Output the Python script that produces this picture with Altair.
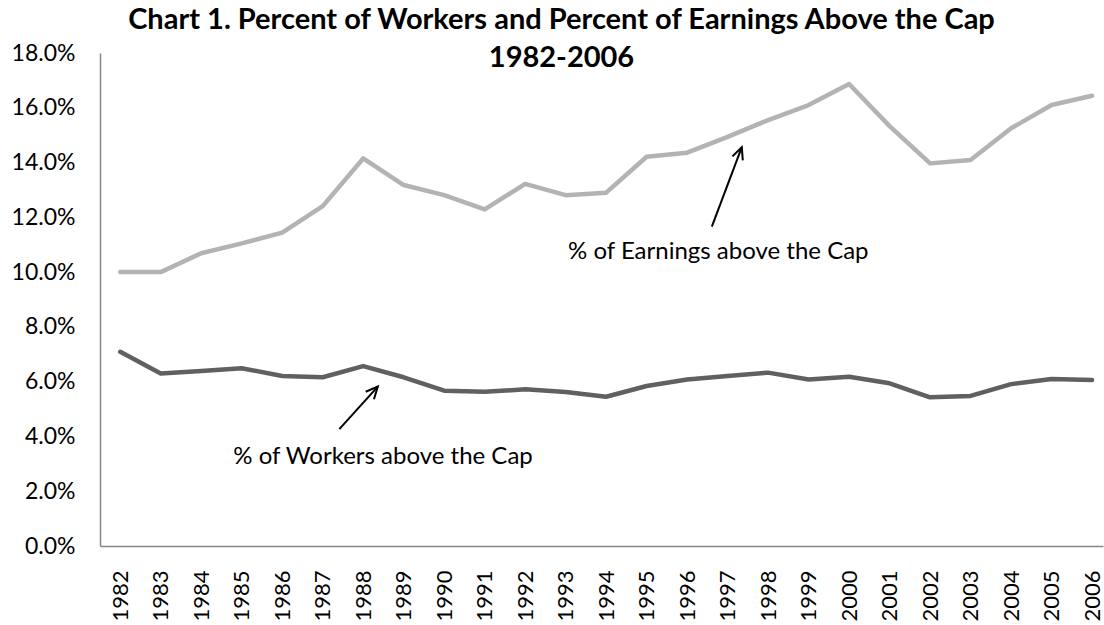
import altair as alt
import pandas as pd

years = list(range(1982, 2007))
workers_pct = [7.09, 6.30, 6.39, 6.49, 6.21, 6.16, 6.57, 6.16, 5.67, 5.63, 5.72,
               5.62, 5.45, 5.84, 6.08, 6.21, 6.33, 6.08, 6.18, 5.94, 5.43, 5.48,
               5.91, 6.10, 6.06]
earnings_pct = [10.0, 10.0, 10.69, 11.05, 11.44, 12.41, 14.15, 13.18, 12.81, 12.29,
                13.22, 12.81, 12.90, 14.21, 14.36, 14.94, 15.55, 16.10, 16.87, 15.33,
                13.97, 14.09, 15.25, 16.10, 16.44]
series_names = ["% of Workers above the Cap", "% of Earnings above the Cap"]
series_colors = ["#606060", "#b3b3b3"]
y_ticks = [0, 2, 4, 6, 8, 10, 12, 14, 16, 18]

# annotation anchors (data coordinates)
label_text = ["% of Earnings above the Cap", "% of Workers above the Cap"]
label_x = [1996.77, 1988.49]
label_y = [10.74, 3.24]
arrow_x = [1996.61, 1987.41]
arrow_y = [11.66, 4.27]
arrow_tip_x = [1997.35, 1988.36]
arrow_tip_y = [14.56, 5.82]
arrow_angle = [20.7, 41.9]

FONT = "Lato"

df = pd.DataFrame({
    "year": years * 2,
    "value": workers_pct + earnings_pct,
    "series": [series_names[0]] * len(years) + [series_names[1]] * len(years),
})
ann = pd.DataFrame({"text": label_text, "x": label_x, "y": label_y})
arr = pd.DataFrame({"x": arrow_x, "y": arrow_y, "x2": arrow_tip_x, "y2": arrow_tip_y,
                    "angle": arrow_angle})

xscale = alt.Scale(domain=[1981.5, 2006.27], nice=False, zero=False)
yscale = alt.Scale(domain=[0, 18], nice=False)

lines = alt.Chart(df).mark_line(strokeWidth=4.5, strokeCap="round", strokeJoin="round").encode(
    x=alt.X("year:Q", scale=xscale,
            axis=alt.Axis(values=years, format="d", labelAngle=-90, labelAlign="right",
                          labelBaseline="middle", labelPadding=24, ticks=False, grid=False,
                          domainColor="#868686", domainWidth=1.5, labelFont=FONT,
                          labelFontSize=22, labelColor="#000000", title=None)),
    y=alt.Y("value:Q", scale=yscale,
            axis=alt.Axis(values=y_ticks, labelExpr="format(datum.value, '.1f') + '%'",
                          ticks=False, grid=False, domainColor="#868686", domainWidth=1.5,
                          labelFont=FONT, labelFontSize=23, labelColor="#000000",
                          labelPadding=25, title=None)),
    color=alt.Color("series:N", scale=alt.Scale(domain=series_names, range=series_colors),
                    legend=None),
    detail="series:N",
)

texts = alt.Chart(ann).mark_text(font=FONT, fontSize=24, color="#000000",
                                 align="center", baseline="middle").encode(
    x=alt.X("x:Q", scale=xscale), y=alt.Y("y:Q", scale=yscale), text="text:N")

shafts = alt.Chart(arr).mark_rule(color="#000000", strokeWidth=2).encode(
    x=alt.X("x:Q", scale=xscale), y=alt.Y("y:Q", scale=yscale),
    x2="x2:Q", y2="y2:Q")

heads = alt.Chart(arr).mark_point(shape="M-0.42,0.9L0,0L0.42,0.9", filled=False,
                                  color="#000000", strokeWidth=2, size=700,
                                  opacity=1).encode(
    x=alt.X("x2:Q", scale=xscale), y=alt.Y("y2:Q", scale=yscale),
    angle=alt.Angle("angle:Q", scale=None))

chart = alt.layer(lines, shafts, heads, texts).properties(
    width=1003, height=493,
    title=alt.TitleParams(
        text=["Chart 1. Percent of Workers and Percent of Earnings Above the Cap", "1982-2006"],
        font=FONT, fontSize=29, fontWeight="bold", color="#000000",
        anchor="middle", dx=-40, offset=-31, baseline="top", lineHeight=38),
    autosize=alt.AutoSizeParams(type="none"),
    padding={"left": 100, "top": 53, "right": 1, "bottom": 79},
).configure(background="#ffffff", view=alt.ViewConfig(strokeWidth=0, stroke="transparent"))

chart.save("out.html", embed_options={"renderer": "svg", "actions": False})
